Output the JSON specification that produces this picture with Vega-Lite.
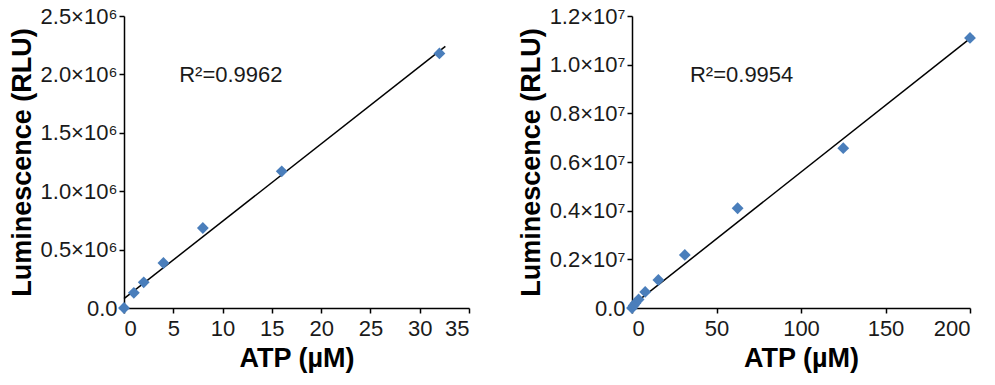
{
  "$schema": "https://vega.github.io/schema/vega-lite/v6.json",
  "padding": {"left": 8, "top": 5, "right": 5, "bottom": 5},
  "spacing": 47,
  "config": {
    "font": "Liberation Sans",
    "view": {"stroke": null},
    "axis": {
      "grid": false,
      "domainColor": "#000000",
      "domainWidth": 1.5,
      "tickColor": "#000000",
      "tickWidth": 1.5,
      "tickSize": 5,
      "labelColor": "#1a1a1a",
      "labelFontSize": 22,
      "labelFont": "Liberation Sans",
      "titleFont": "Liberation Sans",
      "titleFontSize": 27,
      "titleFontWeight": "bold",
      "titleColor": "#000000",
      "labelPadding": 2
    },
    "axisX": {"labelPadding": 5, "titlePadding": 6}
  },
  "datasets": {
    "left": [
      {"atp": 0, "lum": 0},
      {"atp": 1, "lum": 130000},
      {"atp": 2, "lum": 220000},
      {"atp": 4, "lum": 385000},
      {"atp": 8, "lum": 685000},
      {"atp": 16, "lum": 1170000},
      {"atp": 32, "lum": 2180000}
    ],
    "leftfit": [
      {"atp": 0, "lum": 80000},
      {"atp": 32.6, "lum": 2240000}
    ],
    "right": [
      {"atp": 0, "lum": 0},
      {"atp": 1, "lum": 100000},
      {"atp": 2, "lum": 200000},
      {"atp": 3.9, "lum": 350000},
      {"atp": 7.8, "lum": 660000},
      {"atp": 15.6, "lum": 1150000},
      {"atp": 31.25, "lum": 2180000},
      {"atp": 62.5, "lum": 4100000},
      {"atp": 125, "lum": 6570000},
      {"atp": 200, "lum": 11100000}
    ],
    "rightfit": [
      {"atp": 0, "lum": 100000},
      {"atp": 202, "lum": 11180000}
    ],
    "one": [{"k": 1}]
  },
  "hconcat": [
    {
      "width": 345,
      "height": 292,
      "layer": [
        {
          "data": {"name": "leftfit"},
          "mark": {"type": "line", "color": "#000000", "strokeWidth": 1.5, "clip": false},
          "encoding": {
            "x": {"field": "atp", "type": "quantitative"},
            "y": {"field": "lum", "type": "quantitative"}
          }
        },
        {
          "data": {"name": "left"},
          "mark": {"type": "point", "shape": "diamond", "filled": true, "color": "#4a7ebb", "opacity": 1, "size": 140, "clip": false},
          "encoding": {
            "x": {"field": "atp", "type": "quantitative", "scale": {"domain": [0, 35], "nice": false},
              "axis": {"title": "ATP (µM)", "values": [0, 5, 10, 15, 20, 25, 30, 35]}},
            "y": {"field": "lum", "type": "quantitative", "scale": {"domain": [0, 2500000], "nice": false},
              "axis": {"title": "Luminescence (RLU)", "values": [0, 500000, 1000000, 1500000, 2000000, 2500000], "titlePadding": 4,
                "labelExpr": "datum.value == 0 ? '0.0' : format(datum.value / 1000000, '.1f') + '×10⁶'"}}
          }
        },
        {
          "data": {"name": "one"},
          "mark": {"type": "text", "text": "R²=0.9962", "fontSize": 22, "align": "left", "baseline": "middle", "color": "#1a1a1a", "font": "Liberation Sans"},
          "encoding": {
            "x": {"datum": 5.6, "type": "quantitative"},
            "y": {"datum": 1995000, "type": "quantitative"}
          }
        }
      ]
    },
    {
      "width": 338,
      "height": 292,
      "layer": [
        {
          "data": {"name": "rightfit"},
          "mark": {"type": "line", "color": "#000000", "strokeWidth": 1.5, "clip": false},
          "encoding": {
            "x": {"field": "atp", "type": "quantitative"},
            "y": {"field": "lum", "type": "quantitative"}
          }
        },
        {
          "data": {"name": "right"},
          "mark": {"type": "point", "shape": "diamond", "filled": true, "color": "#4a7ebb", "opacity": 1, "size": 140, "clip": false},
          "encoding": {
            "x": {"field": "atp", "type": "quantitative", "scale": {"domain": [0, 200], "nice": false},
              "axis": {"title": "ATP (µM)", "values": [0, 50, 100, 150, 200]}},
            "y": {"field": "lum", "type": "quantitative", "scale": {"domain": [0, 12000000], "nice": false},
              "axis": {"title": "Luminescence (RLU)", "values": [0, 2000000, 4000000, 6000000, 8000000, 10000000, 12000000], "titlePadding": 4,
                "labelExpr": "datum.value == 0 ? '0.0' : format(datum.value / 10000000, '.1f') + '×10⁷'"}}
          }
        },
        {
          "data": {"name": "one"},
          "mark": {"type": "text", "text": "R²=0.9954", "fontSize": 22, "align": "left", "baseline": "middle", "color": "#1a1a1a", "font": "Liberation Sans"},
          "encoding": {
            "x": {"datum": 34.3, "type": "quantitative"},
            "y": {"datum": 9570000, "type": "quantitative"}
          }
        }
      ]
    }
  ]
}
